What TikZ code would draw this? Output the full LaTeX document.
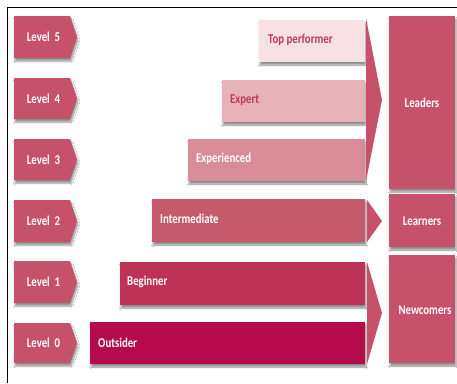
\documentclass[tikz,border=0pt]{standalone}
\usepackage{fontspec}
\setmainfont{Carlito}[FakeStretch=0.8]
\usetikzlibrary{shadows.blur}
\definecolor{rose}{HTML}{C5516B}
\definecolor{cTop}{HTML}{F7E1E4}
\definecolor{cExpert}{HTML}{E6B1B8}
\definecolor{cExpd}{HTML}{D88C98}
\definecolor{cInter}{HTML}{C55A6C}
\definecolor{cBeg}{HTML}{BF3257}
\definecolor{cOut}{HTML}{B50A4B}
\definecolor{darktext}{HTML}{C0385C}
\tikzset{
  shad/.style={blur shadow={shadow xshift=1pt, shadow yshift=-3pt, shadow blur steps=6, shadow opacity=45}},
  lvl/.style={fill=rose, shad},
  lvltext/.style={text=white, font=\bfseries\fontsize{13.5}{13.5}\selectfont, inner sep=0pt},
  bartext/.style={anchor=west, font=\bfseries\fontsize{13.5}{13.5}\selectfont, inner sep=0pt},
  bar/.style={shad},
  arrowtri/.style={fill=rose},
  group/.style={fill=rose, shad},
}
\begin{document}
\begin{tikzpicture}[x=1pt,y=-1pt]
\useasboundingbox (0,0) rectangle (457,383);
\fill[white] (0,0) rectangle (457,383);
% frame
\draw[line width=1pt] (7,383) -- (7,7) -- (457,7);
% level chevrons
\foreach \t/\b/\n in {16/58/5, 78/119/4, 139/180/3, 200/242/2, 261/303/1, 323/363/0}{
  \fill[lvl] (14,\t) -- (70,\t) -- (77,{(\t+\b)/2}) -- (70,\b) -- (14,\b) -- cycle;
  \node[lvltext] (L\n) at (43.5,{(\t+\b)/2}) {Level\ \ \n};
}
% bars
\fill[bar, cTop] (259,20) rectangle (365,62);
\node[bartext, text=darktext] (top) at (268,40) {Top performer};
\fill[bar, cExpert] (222,80) rectangle (365,122);
\node[bartext, text=darktext] (exp) at (230,100) {Expert};
\fill[bar, cExpd] (188,139) rectangle (365,181);
\node[bartext, text=white] (expd) at (196,159) {Experienced};
\fill[bar, cInter] (152,199) rectangle (365,242);
\node[bartext, text=white] (inter) at (160,219) {Intermediate};
\fill[bar, cBeg] (120,262) rectangle (365,305);
\node[bartext, text=white] (beg) at (127,282) {Beginner};
\fill[bar, cOut] (90,322) rectangle (365,364);
\node[bartext, text=white] (out) at (98,343) {Outsider};
% arrow triangles
\fill[arrowtri] (366,18) -- (382,100) -- (366,181) -- cycle;
\fill[arrowtri] (367,200) -- (382,221) -- (367,242) -- cycle;
\fill[arrowtri] (367,262) -- (382,313) -- (367,364) -- cycle;
% group boxes
\fill[group] (389,16) rectangle (455,189);
\node[lvltext] (leaders) at (422,103) {Leaders};
\fill[group] (389,194) rectangle (455,247);
\node[lvltext] (learners) at (422,221) {Learners};
\fill[group] (389,255) rectangle (455,363);
\node[lvltext] (newc) at (425,310) {Newcomers};
\end{tikzpicture}
\end{document}
